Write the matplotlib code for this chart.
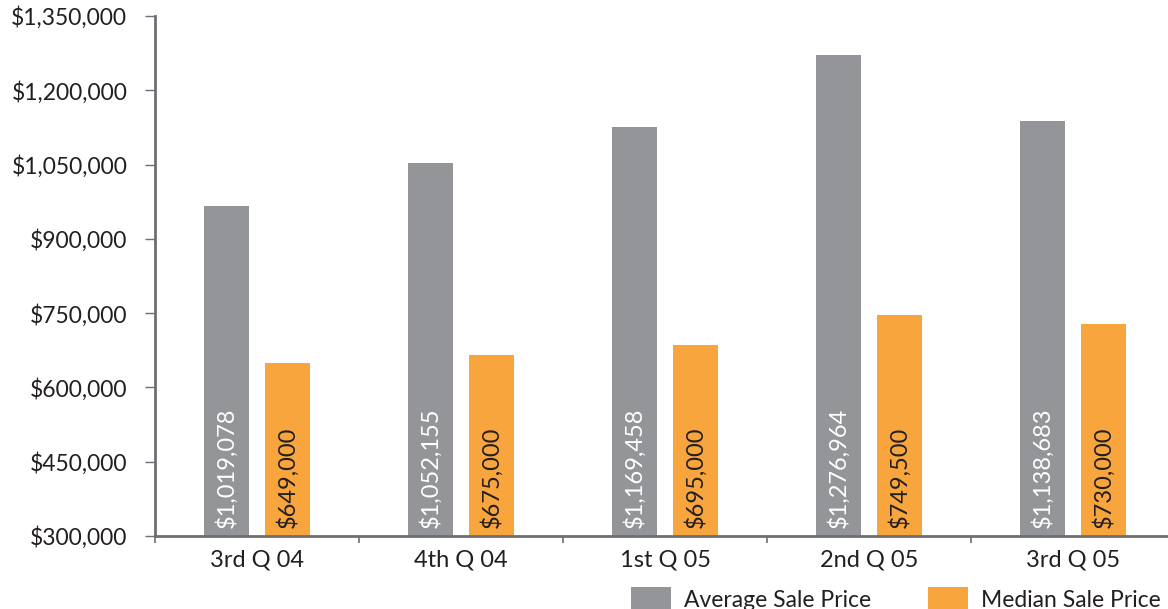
import matplotlib
matplotlib.use("Agg")
import matplotlib.pyplot as plt
from matplotlib.patches import Patch
from matplotlib.ticker import FixedLocator
import numpy as np

plt.rcParams['font.family'] = ['Lato', 'DejaVu Sans']

categories = ["3rd Q 04", "4th Q 04", "1st Q 05", "2nd Q 05", "3rd Q 05"]
average_values = [967000, 1053000, 1126000, 1271000, 1138000]
median_values = [649000, 665000, 686000, 746000, 728000]
average_labels = ["$1,019,078", "$1,052,155", "$1,169,458", "$1,276,964", "$1,138,683"]
median_labels = ["$649,000", "$675,000", "$695,000", "$749,500", "$730,000"]
y_ticks = [300000, 450000, 600000, 750000, 900000, 1050000, 1200000, 1350000]
series_names = ["Average Sale Price", "Median Sale Price"]

gray = "#939598"
orange = "#F8A53D"
text_color = "#231F20"
spine_color = "#6D6E71"

W, H = 1168, 609
fig = plt.figure(figsize=(W / 100, H / 100), dpi=100)
ax = fig.add_axes([155 / W, (H - 536) / H, 1020 / W, 520 / H])

x = np.arange(len(categories))
bw = 0.22
off = 0.148
ax.bar(x - off, average_values, width=bw, color=gray, zorder=2)
ax.bar(x + off, median_values, width=bw, color=orange, zorder=2)

ax.set_ylim(300000, 1350000)
ax.set_xlim(-0.5, len(categories) - 0.5)

for i in range(len(categories)):
    ax.text(x[i] - off, 316000, average_labels[i], rotation=90, ha='center', va='bottom',
            color='white', fontsize=17, zorder=3)
    ax.text(x[i] + off, 316000, median_labels[i], rotation=90, ha='center', va='bottom',
            color=text_color, fontsize=17, zorder=3)

ax.set_yticks(y_ticks)
ax.set_yticklabels([f"${v:,.0f}" for v in y_ticks], fontsize=16.5, color=text_color)
ax.tick_params(axis='y', direction='out', length=7, width=1, color=spine_color, pad=13)

ax.set_xticks(x)
ax.set_xticklabels(categories, fontsize=17, color=text_color)
ax.tick_params(axis='x', which='major', length=0, pad=10)
ax.xaxis.set_minor_locator(FixedLocator(np.arange(-0.5, len(categories), 1.0)))
ax.tick_params(axis='x', which='minor', direction='out', length=5, width=1.2, color=spine_color)

for s in ['top', 'right']:
    ax.spines[s].set_visible(False)
for s in ['left', 'bottom']:
    ax.spines[s].set_color(spine_color)
    ax.spines[s].set_linewidth(2)

handles = [Patch(facecolor=gray), Patch(facecolor=orange)]
fig.legend(handles, series_names, loc='upper left', bbox_to_anchor=(622 / W, 1 - 578 / H),
           ncol=2, frameon=False, fontsize=16.5, handlelength=1.75, handleheight=1.3,
           handletextpad=0.55, columnspacing=2.5, labelcolor=text_color, borderaxespad=0)

fig.savefig("out.png", dpi=100)
